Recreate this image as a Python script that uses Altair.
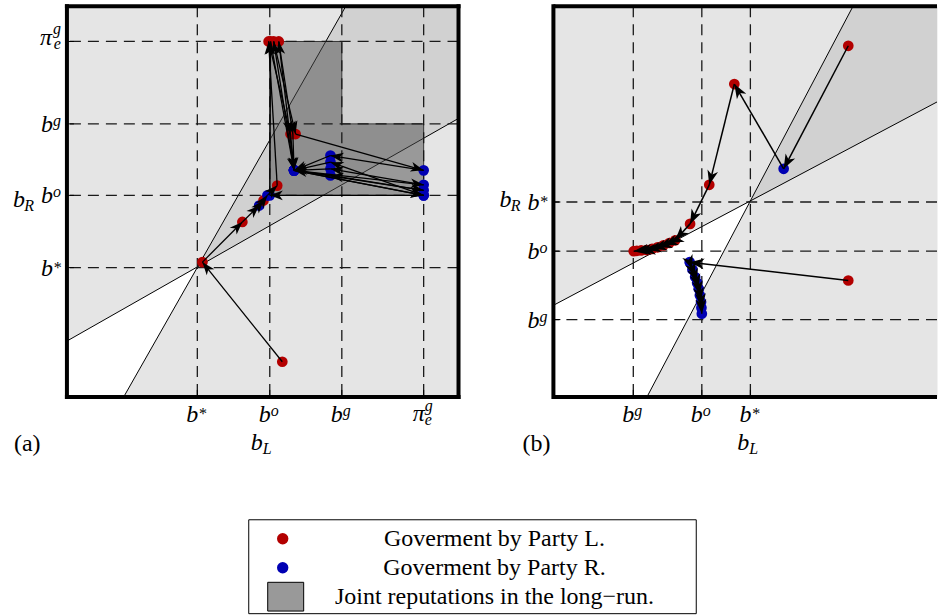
import math
import altair as alt
import pandas as pd

FONT = "Liberation Serif"
RED, BLUE = "#b30000", "#0000b3"
BG, CONE_FILL, REGION_FILL = "#e5e5e5", "#d1d1d1", "#4d4d4d"
PARTY_COLOR = {"L": RED, "R": BLUE}

W, H = 392, 391   # plot area of one panel
WB = 384          # visible width of panel (b): it is cut by the window edge
HEAD = "M0,-1L0.75,1L0,0.45L-0.75,1Z"

# ---------------- panel (a) ----------------
A_XT = [0.333, 0.518, 0.702, 0.911]
A_YT = [0.331, 0.516, 0.699, 0.910]
A_BASE = ["b", "b", "b", "π"]
A_SUP = ["*", "o", "g", "g"]
A_SUB = ["", "", "", "e"]

A_STEEP_X = [0.145, 0.712]
A_STEEP_Y = [0.0, 1.0]
A_SHALLOW_X = [0.0, 1.0]
A_SHALLOW_Y = [0.143, 0.713]
A_CONE_X = [0.333, 0.712, 1.0]
A_CONE_LO = [0.332, 0.549, 0.713]
A_CONE_HI = [0.332, 1.0, 1.0]
A_WHITE_X = [0.0, 0.145, 0.333]
A_WHITE_LO = [0.0, 0.0, 0.332]
A_WHITE_HI = [0.143, 0.226, 0.332]

A_TRAJ_X = [0.550, 0.346, 0.448, 0.491, 0.502, 0.512, 0.537, 0.515, 0.571, 0.580,
            0.911, 0.673, 0.580, 0.528, 0.584, 0.911, 0.673, 0.580, 0.911, 0.673,
            0.580, 0.541, 0.577, 0.580, 0.911, 0.673, 0.580, 0.911, 0.518, 0.520, 0.580]
A_TRAJ_Y = [0.090, 0.345, 0.448, 0.490, 0.503, 0.516, 0.541, 0.910, 0.673, 0.580,
            0.516, 0.601, 0.580, 0.910, 0.673, 0.580, 0.618, 0.580, 0.543, 0.584,
            0.580, 0.910, 0.673, 0.580, 0.529, 0.567, 0.580, 0.516, 0.516, 0.910, 0.580]
A_TRAJ_P = ["L", "L", "L", "R", "L", "R", "L", "L", "L", "R",
            "R", "R", "R", "L", "L", "R", "R", "R", "R", "R",
            "R", "L", "L", "R", "R", "R", "R", "R", "R", "L", "R"]

# ---------------- panel (b) ----------------
B_XT = [0.204, 0.379, 0.503]
B_XBASE = ["b", "b", "b"]
B_XSUP = ["g", "o", "*"]
B_YT = [0.499, 0.373, 0.198]
B_YBASE = ["b", "b", "b"]
B_YSUP = ["*", "o", "g"]
B_NOSUB = ["", "", ""]

B_STEEP_X = [0.239, 0.765]
B_STEEP_Y = [0.0, 1.0]
B_SHALLOW_X = [0.0, 1.0]
B_SHALLOW_Y = [0.2345, 0.766]
B_CONE_X = [0.503, 0.765, 1.0]
B_CONE_LO = [0.500, 0.641, 0.766]
B_CONE_HI = [0.500, 1.0, 1.0]
B_WHITE_X = [0.0, 0.239, 0.503]
B_WHITE_LO = [0.0, 0.0, 0.500]
B_WHITE_HI = [0.2345, 0.361, 0.500]

B1_X = [0.753, 0.588, 0.462, 0.398, 0.349, 0.311, 0.296, 0.281, 0.266, 0.252, 0.238, 0.224, 0.213, 0.205]
B1_Y = [0.899, 0.584, 0.801, 0.543, 0.443, 0.401, 0.394, 0.388, 0.383, 0.379, 0.376, 0.375, 0.374, 0.373]
B1_P = ["L", "R", "L", "L", "L", "L", "L", "L", "L", "L", "L", "L", "L", "L"]
B2_X = [0.753, 0.348, 0.355, 0.362, 0.367, 0.371, 0.374, 0.377, 0.378, 0.379]
B2_Y = [0.298, 0.345, 0.326, 0.307, 0.292, 0.277, 0.260, 0.243, 0.228, 0.213]
B2_P = ["L", "R", "R", "R", "R", "R", "R", "R", "R", "R"]

# ---------------- legend ----------------
LEG_LABELS = ["Goverment by Party L.", "Goverment by Party R.", "Joint reputations in the long−run."]
LEG_KIND = ["L", "R", "region"]

ONE = pd.DataFrame({"k": [0]})


def traj_frames(trajs, head_size):
    unit = math.sqrt(head_size) / 2
    pts, segs = [], []
    for xs, ys, ps in trajs:
        for x, y, p in zip(xs, ys, ps):
            pts.append({"x": x, "y": y, "col": PARTY_COLOR[p]})
        for i in range(len(xs) - 1):
            x0, y0, x1, y1 = xs[i], ys[i], xs[i + 1], ys[i + 1]
            dxp, dyp = (x1 - x0) * W, (y1 - y0) * H
            L = math.hypot(dxp, dyp)
            segs.append({"x0": x0, "y0": y0, "x1": x1, "y1": y1,
                         "hx": x1 - unit * dxp / L / W,
                         "hy": y1 - unit * dyp / L / H,
                         "ang": math.degrees(math.atan2(dxp, dyp)) % 360})
    return pd.DataFrame(pts), pd.DataFrame(segs)


def text(size, align, dx, dy, italic=True, baseline="alphabetic"):
    kw = dict(font=FONT, fontSize=size, align=align, baseline=baseline, dx=dx, dy=dy, color="black")
    if italic:
        kw["fontStyle"] = "italic"
    return kw


def tick_labels(df, axis, X, Y):
    if axis == "x":
        pos = dict(x=X("v:Q"), y=alt.value(H + 25))
        specs = [
            ("datum.base == 'b'", "base", text(24, "right", 1, 0)),
            ("datum.base == 'π'", "base", text(24, "right", 1, -1)),
            ("datum.sup == '*'", "sup", text(16, "left", 1, -3)),
            ("datum.sup != '*' && datum.base == 'b'", "sup", text(16, "left", 1, -6)),
            ("datum.base == 'π'", "sup", text(16, "left", 1, -11)),
            ("datum.sub != ''", "sub", text(16, "left", 1, 3)),
        ]
    else:
        pos = dict(x=alt.value(0), y=Y("v:Q"))
        specs = [
            ("datum.base == 'b'", "base", text(24, "right", -14, 8)),
            ("datum.base == 'π'", "base", text(24, "right", -15, 4)),
            ("datum.sup == '*'", "sup", text(16, "right", -6, 5)),
            ("datum.sup != '*' && datum.base == 'b'", "sup", text(16, "right", -6, 2)),
            ("datum.base == 'π'", "sup", text(16, "right", -6, -7)),
            ("datum.sub != ''", "sub", text(16, "right", -6, 8)),
        ]
    out = []
    for flt, field, kw in specs:
        out.append(alt.Chart(df).transform_filter(flt).mark_text(**kw)
                   .encode(text=f"{field}:N", **pos))
    return out


def legend_layers():
    """Legend box below the panels, drawn in panel (a)'s pixel frame."""
    top = 514          # box top, px below the plot area's top
    step = 29
    first = top + 19
    leg_df = pd.DataFrame({"row": [0, 1, 2], "label": LEG_LABELS, "kind": LEG_KIND})
    leg_df["col"] = [PARTY_COLOR.get(k, "#999999") for k in LEG_KIND]
    out = [alt.Chart(ONE).mark_rect(fill="white", stroke="black", strokeWidth=1).encode(
        x=alt.value(182), x2=alt.value(630), y=alt.value(top), y2=alt.value(top + 94))]
    for r in range(3):
        sub = leg_df[leg_df["row"] == r]
        yv = alt.value(first + r * step)
        if LEG_KIND[r] == "region":
            out.append(alt.Chart(sub).mark_point(
                shape="M-1,-0.8H1V0.8H-1Z", size=1296, filled=True, fill="#999999",
                stroke="black", strokeWidth=1, opacity=1).encode(x=alt.value(219), y=yv))
        else:
            out.append(alt.Chart(sub).mark_circle(size=130, opacity=1).encode(
                x=alt.value(216), y=yv, color=alt.Color("col:N", scale=None)))
        out.append(alt.Chart(sub).mark_text(**text(24, "center", 0, 0, italic=False, baseline="middle"))
                   .encode(x=alt.value(428), y=yv, text="label:N"))
    return out


def panel(xmax, width, xt, xbase, xsup, xsub, yt, ybase, ysup, ysub,
          steep, shallow, cone, white, trajs, lw, head, tag, tag_dx,
          full_frame, region=None, extra=None):
    xs = alt.Scale(domain=[0, xmax], nice=False, zero=False)
    ys = alt.Scale(domain=[0, 1], nice=False, zero=False)

    def X(f):
        return alt.X(f, scale=xs, axis=None)

    def Y(f):
        return alt.Y(f, scale=ys, axis=None)

    layers = []
    cone_df = pd.DataFrame({"x": cone[0], "lo": cone[1], "hi": cone[2]})
    white_df = pd.DataFrame({"x": white[0], "lo": white[1], "hi": white[2]})
    layers.append(alt.Chart(cone_df).mark_area(color=CONE_FILL, clip=True, opacity=1)
                  .encode(x=X("x:Q"), y=Y("lo:Q"), y2="hi:Q"))
    layers.append(alt.Chart(white_df).mark_area(color="white", clip=True, opacity=1)
                  .encode(x=X("x:Q"), y=Y("lo:Q"), y2="hi:Q"))
    bnd = pd.DataFrame({"x0": [steep[0][0], shallow[0][0]], "x1": [steep[0][1], shallow[0][1]],
                        "y0": [steep[1][0], shallow[1][0]], "y1": [steep[1][1], shallow[1][1]]})
    layers.append(alt.Chart(bnd).mark_rule(color="black", strokeWidth=1, clip=True)
                  .encode(x=X("x0:Q"), y=Y("y0:Q"), x2="x1:Q", y2="y1:Q"))

    if region is not None:
        rx, ry = region
        rect_df = pd.DataFrame({"x1": [rx[0], rx[1]], "x2": [rx[1], rx[2]],
                                "y1": [ry[0], ry[0]], "y2": [ry[2], ry[1]]})
        layers.append(alt.Chart(rect_df).mark_rect(color=REGION_FILL, opacity=0.5)
                      .encode(x=X("x1:Q"), x2="x2:Q", y=Y("y1:Q"), y2="y2:Q"))
        out_df = pd.DataFrame({
            "k": list(range(7)),
            "x": [rx[0], rx[0], rx[1], rx[1], rx[2], rx[2], rx[0]],
            "y": [ry[0], ry[2], ry[2], ry[1], ry[1], ry[0], ry[0]]})
        layers.append(alt.Chart(out_df).mark_line(color="#333333", strokeWidth=1)
                      .encode(x=X("x:Q"), y=Y("y:Q"), order="k:Q"))

    xt_df = pd.DataFrame({"v": xt, "base": xbase, "sup": xsup, "sub": xsub})
    yt_df = pd.DataFrame({"v": yt, "base": ybase, "sup": ysup, "sub": ysub})
    grid = dict(color="#1a1a1a", strokeWidth=1.3, strokeDash=[11, 7])
    layers.append(alt.Chart(xt_df).mark_rule(**grid).encode(x=X("v:Q")))
    layers.append(alt.Chart(yt_df).mark_rule(**grid).encode(y=Y("v:Q")))
    layers.append(alt.Chart(xt_df).mark_rule(color="black", strokeWidth=1)
                  .encode(x=X("v:Q"), y=alt.value(H), y2=alt.value(H - 7)))
    layers.append(alt.Chart(yt_df).mark_rule(color="black", strokeWidth=1)
                  .encode(y=Y("v:Q"), x=alt.value(0), x2=alt.value(7)))

    pts, segs = traj_frames(trajs, head)
    layers.append(alt.Chart(pts).mark_circle(size=115, opacity=1)
                  .encode(x=X("x:Q"), y=Y("y:Q"), color=alt.Color("col:N", scale=None)))
    layers.append(alt.Chart(segs).mark_rule(color="black", strokeWidth=lw)
                  .encode(x=X("x0:Q"), y=Y("y0:Q"), x2="x1:Q", y2="y1:Q"))
    layers.append(alt.Chart(segs).mark_point(shape=HEAD, filled=True, color="black", size=head,
                                             opacity=1, strokeWidth=0)
                  .encode(x=X("hx:Q"), y=Y("hy:Q"), angle=alt.Angle("ang:Q", scale=None)))

    # frame
    fr = dict(color="black", strokeWidth=4)
    layers.append(alt.Chart(ONE).mark_rule(strokeCap="square", **fr)
                  .encode(x=alt.value(0), y=alt.value(0), y2=alt.value(H)))
    cap = "square" if full_frame else "butt"
    layers.append(alt.Chart(ONE).mark_rule(strokeCap=cap, **fr)
                  .encode(y=alt.value(0), x=alt.value(0), x2=alt.value(width)))
    layers.append(alt.Chart(ONE).mark_rule(strokeCap=cap, **fr)
                  .encode(y=alt.value(H), x=alt.value(0), x2=alt.value(width)))
    if full_frame:
        layers.append(alt.Chart(ONE).mark_rule(strokeCap="square", **fr)
                      .encode(x=alt.value(width), y=alt.value(0), y2=alt.value(H)))

    # tick labels
    layers += tick_labels(xt_df, "x", X, Y)
    layers += tick_labels(yt_df, "y", X, Y)

    # axis titles and panel tag
    ttl = pd.DataFrame({"b": ["b"], "L": ["L"], "R": ["R"], "tag": [tag]})
    layers.append(alt.Chart(ttl).mark_text(**text(24, "right", 0, 0))
                  .encode(text="b:N", x=alt.value(W / 2), y=alt.value(H + 53)))
    layers.append(alt.Chart(ttl).mark_text(**text(16, "left", 0, 4))
                  .encode(text="L:N", x=alt.value(W / 2), y=alt.value(H + 53)))
    layers.append(alt.Chart(ttl).mark_text(**text(24, "right", -42, 5))
                  .encode(text="b:N", x=alt.value(0), y=alt.value(H / 2)))
    layers.append(alt.Chart(ttl).mark_text(**text(16, "right", -33, 9))
                  .encode(text="R:N", x=alt.value(0), y=alt.value(H / 2)))
    layers.append(alt.Chart(ttl).mark_text(**text(24, "left", tag_dx, 0, italic=False))
                  .encode(text="tag:N", x=alt.value(0), y=alt.value(H + 54)))

    if extra:
        layers += extra

    return alt.layer(*layers).properties(
        width=width, height=H,
        view=alt.ViewBackground(fill=BG, stroke="transparent"))


pa = panel(1.0, W, A_XT, A_BASE, A_SUP, A_SUB, A_YT, A_BASE, A_SUP, A_SUB,
           (A_STEEP_X, A_STEEP_Y), (A_SHALLOW_X, A_SHALLOW_Y),
           (A_CONE_X, A_CONE_LO, A_CONE_HI), (A_WHITE_X, A_WHITE_LO, A_WHITE_HI),
           [(A_TRAJ_X, A_TRAJ_Y, A_TRAJ_P)], 1.3, 170, "(a)", -53, True,
           region=(A_XT[1:], A_YT[1:]), extra=legend_layers())

pb = panel(WB / W, WB, B_XT, B_XBASE, B_XSUP, B_NOSUB, B_YT, B_YBASE, B_YSUP, B_NOSUB,
           (B_STEEP_X, B_STEEP_Y), (B_SHALLOW_X, B_SHALLOW_Y),
           (B_CONE_X, B_CONE_LO, B_CONE_HI), (B_WHITE_X, B_WHITE_LO, B_WHITE_HI),
           [(B1_X, B1_Y, B1_P), (B2_X, B2_Y, B2_P)], 1.5, 210, "(b)", -31, False)

chart = alt.hconcat(pa, pb, spacing=95, bounds="flush").properties(
    padding={"left": 12, "top": 2, "right": 0, "bottom": 0})

chart.save("out.html", embed_options={"renderer": "svg", "actions": False})
